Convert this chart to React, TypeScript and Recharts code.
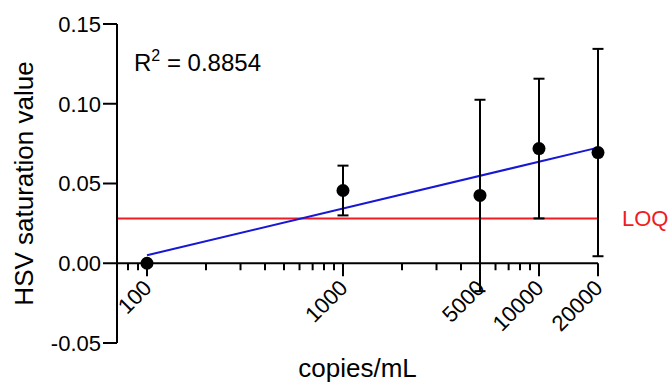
import {
  ScatterChart,
  Scatter,
  XAxis,
  YAxis,
  ErrorBar,
  ReferenceLine,
  ReferenceDot,
} from "recharts";

const copies = [100, 1000, 5000, 10000, 20000];
const saturation = [0.0, 0.0456, 0.0425, 0.0719, 0.0694];
const sd = [0, 0.0156, 0.06, 0.0438, 0.065];

// regression line end points (log x)
const fitX = [100, 20000];
const fitY = [0.005, 0.0725];

const loq = 0.028;
const r2 = "0.8854";

const yTicks = [-0.05, 0, 0.05, 0.1, 0.15];
const xMajor = [100, 1000, 5000, 10000, 20000];
const xMinor = [80, 90, 200, 300, 400, 500, 600, 700, 800, 900, 2000, 3000, 4000, 6000, 7000, 8000, 9000];
const xDomain = [70.3, 20000];

const FONT = "Arial, 'Liberation Sans', sans-serif";

const points = copies.map((c, i) => ({ x: c, y: saturation[i], sd: sd[i] }));

function XTick({ cx, cy, label }: { cx: number; cy: number; label?: string }) {
  const len = label ? 13 : 7;
  const tx = cx + 6;
  const ty = cy + 26;
  return (
    <g>
      <line x1={cx} y1={cy} x2={cx} y2={cy + len} stroke="#000" strokeWidth={2} />
      {label && (
        <text
          x={tx}
          y={ty}
          transform={`rotate(-45 ${tx} ${ty})`}
          textAnchor="end"
          fontSize={22}
          fontFamily={FONT}
          fill="#000"
        >
          {label}
        </text>
      )}
    </g>
  );
}

function YLabel(props: any) {
  const vb = props.viewBox;
  const x = vb.x + 33;
  const y = vb.y + vb.height / 2;
  return (
    <text
      x={x}
      y={y}
      transform={`rotate(-90 ${x} ${y})`}
      textAnchor="middle"
      fontSize={26}
      fontFamily={FONT}
      fill="#000"
    >
      HSV saturation value
    </text>
  );
}

export default function App() {
  return (
    <div style={{ position: "absolute", left: 0, top: 0, width: 670, height: 382, background: "#fff" }}>
      <ScatterChart width={670} height={382} margin={{ top: 24, right: 72, bottom: 0, left: 0 }}>
        <XAxis
          type="number"
          dataKey="x"
          scale="log"
          domain={xDomain}
          tick={false}
          tickLine={false}
          axisLine={false}
          height={39}
          label={{ value: "copies/mL", position: "insideBottom", offset: 5, fontSize: 26, fill: "#000", fontFamily: FONT }}
        />
        <YAxis
          type="number"
          dataKey="y"
          domain={[-0.05, 0.15]}
          ticks={yTicks}
          width={117}
          tickSize={14}
          tickMargin={2}
          tickFormatter={(v: number) => v.toFixed(2)}
          tick={{ fontSize: 22, fill: "#000", fontFamily: FONT }}
          tickLine={{ stroke: "#000", strokeWidth: 2 }}
          axisLine={{ stroke: "#000", strokeWidth: 2 }}
          label={{ content: (p: any) => <YLabel {...p} /> }}
        />
        <ReferenceLine y={0} stroke="#000" strokeWidth={2} />
        {xMinor.map((v) => (
          <ReferenceDot key={"m" + v} x={v} y={0} shape={(p: any) => <XTick cx={p.cx} cy={p.cy} />} />
        ))}
        {xMajor.map((v) => (
          <ReferenceDot key={"M" + v} x={v} y={0} shape={(p: any) => <XTick cx={p.cx} cy={p.cy} label={String(v)} />} />
        ))}
        <ReferenceLine
          y={loq}
          stroke="#ee1d23"
          strokeWidth={2}
          label={{ value: "LOQ", position: "right", offset: 24, fontSize: 22, fill: "#ee1d23", fontFamily: FONT }}
        />
        <ReferenceLine
          segment={[
            { x: fitX[0], y: fitY[0] },
            { x: fitX[1], y: fitY[1] },
          ]}
          stroke="#1717d4"
          strokeWidth={2}
        />
        <Scatter
          data={points}
          isAnimationActive={false}
          shape={(p: any) => <circle cx={p.cx} cy={p.cy} r={6.5} fill="#000" />}
        >
          <ErrorBar dataKey="sd" direction="y" width={5.5} stroke="#000" strokeWidth={2} />
        </Scatter>
      </ScatterChart>
      <svg width={670} height={382} style={{ position: "absolute", left: 0, top: 0, pointerEvents: "none" }}>
        <text x={134} y={71} fontSize={24} fontFamily={FONT} fill="#000">
          R
          <tspan fontSize={16} dy={-10}>
            2
          </tspan>
          <tspan dy={10} fontSize={24}>
            {" = " + r2}
          </tspan>
        </text>
      </svg>
    </div>
  );
}
